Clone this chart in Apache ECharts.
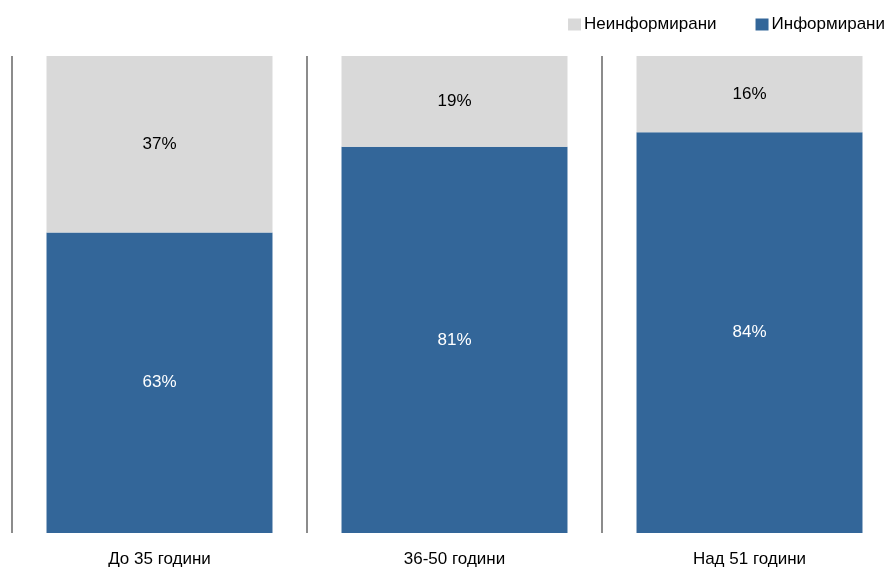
<!DOCTYPE html>
<html><head><meta charset="utf-8">
<script src="https://cdn.jsdelivr.net/npm/echarts@6/dist/echarts.min.js"></script>
<style>html,body{margin:0;padding:0;background:#fff;overflow:hidden}#c{width:900px;height:569px}</style>
</head><body><div id="c"></div>
<script>
const categories = ['До 35 години', '36-50 години', 'Над 51 години'];
const informed = [63, 81, 84];
const uninformed = [37, 19, 16];
const seriesNames = ['Информирани', 'Неинформирани'];
const legendOrder = ['Неинформирани', 'Информирани'];

const chart = echarts.init(document.getElementById('c'), null, {renderer: 'canvas'});
const font = '"Liberation Sans", Arial, sans-serif';
chart.setOption({
  animation: false,
  textStyle: {fontFamily: font},
  legend: {
    data: legendOrder, right: 10, top: 11, itemWidth: 13, itemHeight: 12, itemGap: 39,
    icon: 'rect', textStyle: {fontFamily: font, fontSize: 17, color: '#000', padding: [0,0,0,-2]}
  },
  grid: {left: 12, right: 3, top: 56, bottom: 36},
  xAxis: {
    type: 'category', data: categories, boundaryGap: true,
    axisLine: {show: false}, axisTick: {show: false},
    axisLabel: {fontFamily: font, fontSize: 17, color: '#000', margin: 18},
    splitLine: {show: true, interval: 0, lineStyle: {color: '#8c8c8c', width: 2}}
  },
  yAxis: {type: 'value', min: 0, max: 100, show: false, splitLine: {show: false}},
  series: [
    {name: seriesNames[0], type: 'bar', stack: 's', data: informed, barWidth: '76.6%',
     itemStyle: {color: '#336699'},
     label: {show: true, position: 'inside', formatter: '{c}%', color: '#fff', fontSize: 17, fontFamily: font}},
    {name: seriesNames[1], type: 'bar', stack: 's', data: uninformed, barWidth: '76.6%',
     itemStyle: {color: '#d9d9d9'},
     label: {show: true, position: 'inside', formatter: '{c}%', color: '#000', fontSize: 17, fontFamily: font}}
  ]
});
</script></body></html>
